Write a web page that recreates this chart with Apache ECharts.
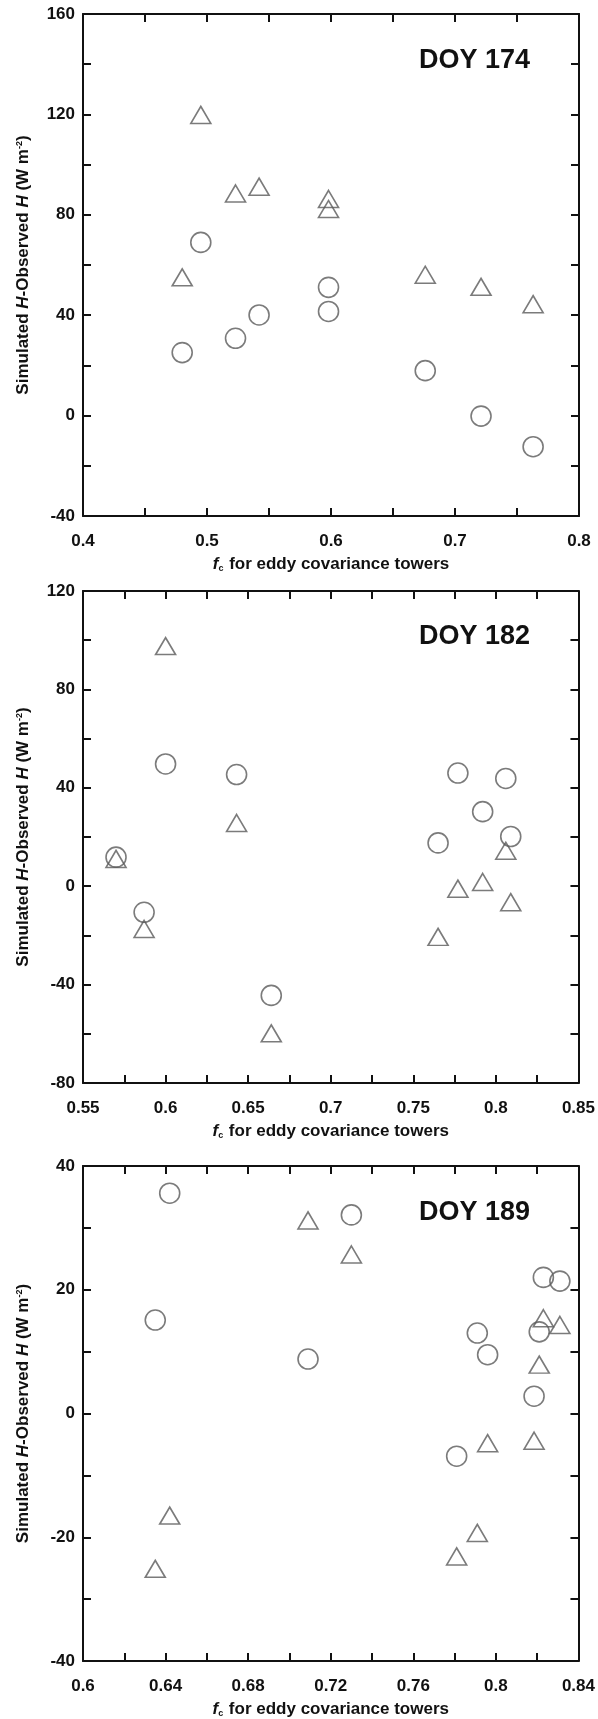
<!DOCTYPE html>
<html>
<head>
<meta charset="utf-8">
<script src="https://cdn.jsdelivr.net/npm/echarts@6/dist/echarts.min.js"></script>
<style>
  html, body { margin: 0; padding: 0; background: #fff; }
  #chart { width: 598px; height: 1719px; }
</style>
</head>
<body>
<div id="chart"></div>
<script>
// DOY 174
const x174 = [0.48, 0.495, 0.523, 0.542, 0.598, 0.598, 0.676, 0.721, 0.763];
const tri174 = [55.1, 119.8, 88.5, 91.2, 86.3, 82.3, 56.1, 51.3, 44.4];
const circ174 = [25.1, 69.0, 30.8, 40.1, 51.1, 41.5, 17.9, -0.2, -12.4];

// DOY 182
const x182 = [0.570, 0.587, 0.600, 0.643, 0.664, 0.765, 0.777, 0.792, 0.806, 0.809];
const tri182 = [11.1, -17.4, 97.6, 25.7, -59.8, -20.6, -1.0, 1.7, 14.4, -6.5];
const circ182 = [11.8, -10.6, 49.7, 45.4, -44.4, 17.6, 46.0, 30.3, 43.8, 20.2];

// DOY 189
const x189 = [0.635, 0.642, 0.709, 0.730, 0.781, 0.791, 0.796, 0.8185, 0.821, 0.823, 0.831];
const tri189 = [-25.1, -16.5, 31.2, 25.7, -23.1, -19.3, -4.8, -4.4, 7.9, 15.4, 14.3];
const circ189 = [15.1, 35.6, 8.8, 32.1, -6.9, 13.0, 9.5, 2.8, 13.2, 22.0, 21.4];

const panelNames = ['DOY 174', 'DOY 182', 'DOY 189'];
const xRanges = [[0.4, 0.8, 0.1], [0.55, 0.85, 0.05], [0.6, 0.84, 0.04]];
const yRanges = [[-40, 160, 40], [-80, 120, 40], [-40, 40, 20]];

const panels = [
  { x: x174, tri: tri174, circ: circ174 },
  { x: x182, tri: tri182, circ: circ182 },
  { x: x189, tri: tri189, circ: circ189 }
];

const grids = [
  { left: 83, top: 14, width: 496, height: 502 },
  { left: 83, top: 591, width: 496, height: 492 },
  { left: 83, top: 1166, width: 496, height: 496 }
];

const ink = '#111';
const markColor = '#5a5a5a';
const font = 'Liberation Sans, Arial, sans-serif';

const fmt = v => String(+v.toFixed(3));

const lineStyle = { color: ink, width: 2 };
const tickStyle = { show: true, inside: true, length: 8, lineStyle: { color: ink, width: 2 } };
const minorStyle = { show: true, splitNumber: 2, length: 8, lineStyle: { color: ink, width: 2 } };

const xAxis = [];
const yAxis = [];
const series = [];
const title = [];

panels.forEach((p, i) => {
  const [xmin, xmax, xint] = xRanges[i];
  const [ymin, ymax, yint] = yRanges[i];

  xAxis.push({
    gridIndex: i, type: 'value', position: 'bottom',
    min: xmin, max: xmax, interval: xint,
    axisLine: { show: true, onZero: false, lineStyle },
    axisTick: tickStyle, minorTick: minorStyle,
    splitLine: { show: false },
    axisLabel: { color: ink, fontSize: 17, fontWeight: 'bold', fontFamily: font, margin: 17, formatter: fmt },
    name: '{i|f}{sub|c} for eddy covariance towers',
    nameLocation: 'middle', nameGap: 40,
    nameTextStyle: {
      color: ink, fontSize: 17, fontWeight: 'bold', fontFamily: font,
      rich: {
        i: { fontSize: 17, fontStyle: 'italic', fontWeight: 'bold', fontFamily: font, color: ink },
        sub: { fontSize: 9, fontWeight: 'bold', fontFamily: font, color: ink, verticalAlign: 'bottom', padding: [6, 1, 0, 0] }
      }
    }
  });
  xAxis.push({
    gridIndex: i, type: 'value', position: 'top',
    min: xmin, max: xmax, interval: xint,
    axisLine: { show: true, onZero: false, lineStyle },
    axisTick: tickStyle, minorTick: minorStyle,
    splitLine: { show: false },
    axisLabel: { show: false }
  });
  yAxis.push({
    gridIndex: i, type: 'value', position: 'left',
    min: ymin, max: ymax, interval: yint,
    axisLine: { show: true, onZero: false, lineStyle },
    axisTick: tickStyle, minorTick: minorStyle,
    splitLine: { show: false },
    axisLabel: { color: ink, fontSize: 17, fontWeight: 'bold', fontFamily: font, margin: 8 },
    name: 'Simulated {i|H}-Observed {i|H} (W m{sup|-2})',
    nameLocation: 'middle', nameGap: 51,
    nameTextStyle: {
      color: ink, fontSize: 17, fontWeight: 'bold', fontFamily: font,
      rich: {
        i: { fontSize: 17, fontStyle: 'italic', fontWeight: 'bold', fontFamily: font, color: ink },
        sup: { fontSize: 9, fontWeight: 'bold', fontFamily: font, color: ink, verticalAlign: 'top', padding: [0, 0, 6, 0] }
      }
    }
  });
  yAxis.push({
    gridIndex: i, type: 'value', position: 'right',
    min: ymin, max: ymax, interval: yint,
    axisLine: { show: true, onZero: false, lineStyle },
    axisTick: tickStyle, minorTick: minorStyle,
    splitLine: { show: false },
    axisLabel: { show: false }
  });

  series.push({
    type: 'scatter', xAxisIndex: i * 2, yAxisIndex: i * 2,
    symbol: 'triangle', symbolSize: [20, 17],
    itemStyle: { color: 'none', borderColor: markColor, borderWidth: 1.6 },
    data: p.x.map((v, k) => [v, p.tri[k]])
  });
  series.push({
    type: 'scatter', xAxisIndex: i * 2, yAxisIndex: i * 2,
    symbol: 'circle', symbolSize: 20,
    itemStyle: { color: 'none', borderColor: markColor, borderWidth: 1.6 },
    data: p.x.map((v, k) => [v, p.circ[k]])
  });

  const g = grids[i];
  title.push({
    text: panelNames[i],
    right: 63,
    top: g.top + 0.088 * g.height - 16,
    textStyle: { color: ink, fontSize: 27, fontWeight: 'bold', fontFamily: font }
  });
});

const chart = echarts.init(document.getElementById('chart'), null, { renderer: 'canvas' });
chart.setOption({
  animation: false,
  backgroundColor: '#fff',
  title,
  grid: grids,
  xAxis,
  yAxis,
  series
});
</script>
</body>
</html>
